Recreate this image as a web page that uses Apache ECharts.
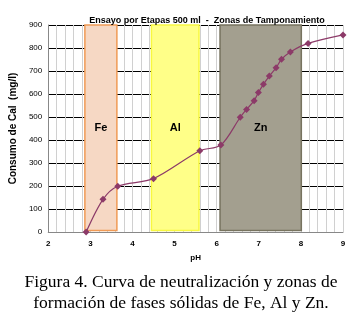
<!DOCTYPE html>
<html>
<head>
<meta charset="utf-8">
<script src="https://cdn.jsdelivr.net/npm/echarts@6/dist/echarts.min.js"></script>
<style>
  html, body { margin: 0; padding: 0; background: #fff; }
  #chart { width: 349px; height: 322px; }
</style>
</head>
<body>
<div id="chart"></div>
<script>
// neutralization curve
const phValues = [2.9, 3.3, 3.65, 4.5, 5.6, 6.1, 6.56, 6.71, 6.89, 6.99, 7.11, 7.25, 7.41, 7.54, 7.75, 8.17, 9.0];
const calValues = [0, 142, 199, 232, 353, 378, 499, 533, 571, 606, 642, 678, 714, 751, 783, 820, 857];

// buffering zones
const zoneNames = ["Fe", "Al", "Zn"];
const zoneStarts = [2.87, 4.45, 6.08];
const zoneEnds = [3.63, 5.58, 8.01];
const zoneFill = ["#F6D8C4", "#FFFF88", "#A39F8F"];
const zoneBorder = ["#F09A55", "#F8F840", "#77735F"];

const xTicks = [2, 9, 1];
const yTicks = [0, 900, 100];

const chart = echarts.init(document.getElementById("chart"));

const markData = zoneNames.map((name, i) => [
  {
    name: name,
    coord: [zoneStarts[i], 6],
    itemStyle: { color: zoneFill[i], borderColor: zoneBorder[i], borderWidth: 1.5 },
  },
  { coord: [zoneEnds[i], 900] },
]);

chart.setOption({
  animation: false,
  title: [
    {
      text: "Ensayo por Etapas 500 ml  -  Zonas de Tamponamiento",
      left: 202,
      textAlign: "center",
      top: 11,
      textStyle: { fontFamily: "Liberation Sans", fontSize: 9, fontWeight: "bold", color: "#000" },
    },
    {
      text: "Figura 4. Curva de neutralización y zonas de\nformación de fases sólidas de Fe, Al y Zn.",
      left: 176,
      textAlign: "center",
      top: 267,
      textStyle: { fontFamily: "Liberation Serif", fontSize: 17.5, fontWeight: "normal", color: "#000", lineHeight: 21 },
    },
  ],
  grid: { left: 46, right: 6, top: 25, bottom: 90 },
  xAxis: {
    type: "value",
    min: xTicks[0],
    max: xTicks[1],
    interval: xTicks[2],
    name: "pH",
    nameLocation: "middle",
    nameGap: 22,
    nameTextStyle: { fontFamily: "Liberation Sans", fontSize: 8, fontWeight: "bold", color: "#000" },
    axisLine: { lineStyle: { color: "#888", width: 1 } },
    axisTick: { show: false },
    axisLabel: { fontFamily: "Liberation Sans", fontSize: 8, fontWeight: "bold", color: "#000", margin: 8 },
    splitLine: { show: true, lineStyle: { color: "#d0d0d0", width: 1 } },
    minorTick: { show: false, splitNumber: 5 },
    minorSplitLine: { show: true, lineStyle: { color: "#d0d0d0", width: 1 } },
  },
  yAxis: {
    type: "value",
    min: yTicks[0],
    max: yTicks[1],
    interval: yTicks[2],
    name: "Consumo de Cal  (mg/l)",
    nameLocation: "middle",
    nameGap: 26,
    nameTextStyle: { fontFamily: "Liberation Sans", fontSize: 10, fontWeight: "bold", color: "#000" },
    axisLine: { show: true, lineStyle: { color: "#888", width: 1 } },
    axisTick: { show: false },
    axisLabel: { fontFamily: "Liberation Sans", fontSize: 8, color: "#000", margin: 6 },
    splitLine: { show: true, lineStyle: { color: "#000", width: 1 } },
  },
  series: [
    {
      // zones only, drawn under the grid lines
      type: "line",
      data: [],
      z: -1,
      markArea: {
        silent: true,
        label: {
          show: true,
          position: "inside",
          fontFamily: "Liberation Sans",
          fontSize: 11,
          fontWeight: "bold",
          color: "#000",
        },
        data: markData,
      },
    },
    {
      type: "line",
      data: phValues.map((p, i) => [p, calValues[i]]),
      smooth: 0.3,
      symbol: "diamond",
      symbolSize: 7,
      lineStyle: { color: "#8C3A68", width: 1.2 },
      itemStyle: { color: "#8C3A68" },
      z: 5,
    },
  ],
});
</script>
</body>
</html>
